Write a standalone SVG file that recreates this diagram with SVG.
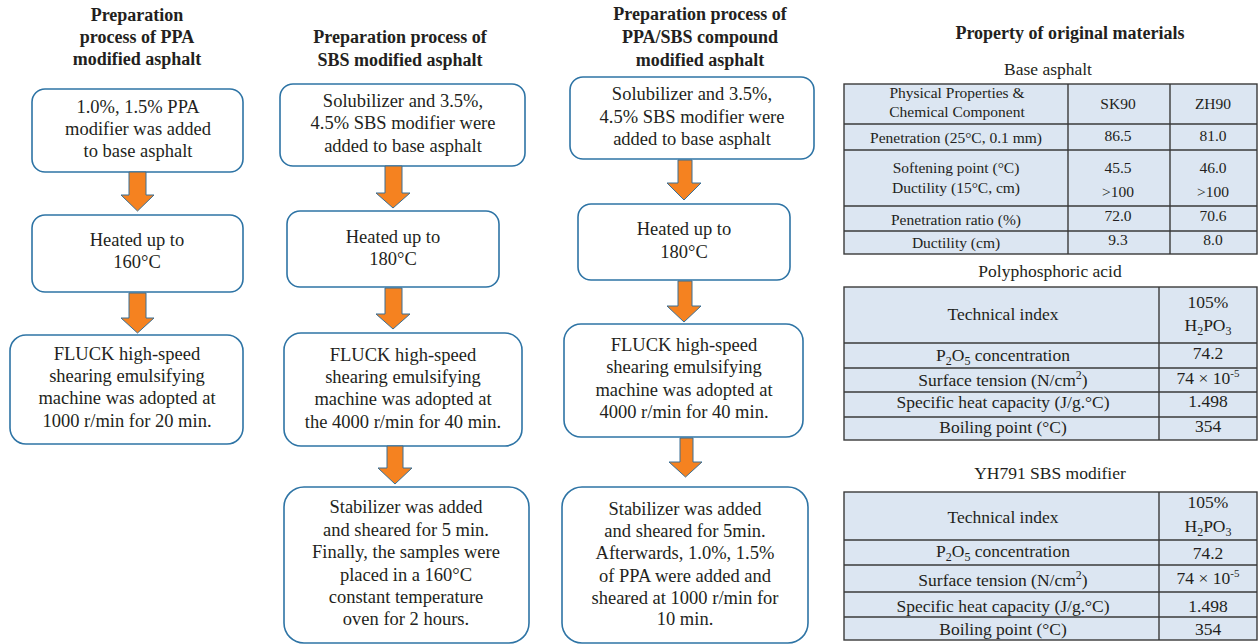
<svg xmlns="http://www.w3.org/2000/svg" width="1258" height="644" viewBox="0 0 1258 644">
<style>
text{font-family:"Liberation Serif","DejaVu Serif",serif;fill:#231f20;text-anchor:middle}
.h{font-size:18px;font-weight:bold}
.t{font-size:18.5px}
.c{font-size:17.5px}
.s1{font-size:15.5px}
.s2{font-size:17.5px}
.box{fill:#fff;stroke:#2e74a5;stroke-width:1.6}
.arr{fill:#f58220;stroke:#3a6f94;stroke-width:1}
.cell{fill:#dce6f2;stroke:#3a3a3a;stroke-width:1.4}
.ln{stroke:#3a3a3a;stroke-width:1.4}
</style>

<!-- Column 1 -->
<g id="title1">
<text class="h" x="137" y="21">Preparation</text>
<text class="h" x="137" y="43">process of PPA</text>
<text class="h" x="137" y="65">modified asphalt</text>
</g>
<g id="c1n1">
<rect class="box" x="32" y="89" width="211" height="83" rx="13"/>
<text class="t" x="138" y="113">1.0%, 1.5% PPA</text>
<text class="t" x="138" y="135">modifier was added</text>
<text class="t" x="138" y="157">to base asphalt</text>
</g>
<g id="c1n2">
<rect class="box" x="32" y="215" width="211" height="77" rx="13"/>
<text class="t" x="137" y="246">Heated up to</text>
<text class="t" x="137" y="268">160°C</text>
</g>
<g id="c1n3">
<rect class="box" x="10" y="335" width="233" height="109" rx="16"/>
<text class="t" x="127" y="360">FLUCK high-speed</text>
<text class="t" x="127" y="382">shearing emulsifying</text>
<text class="t" x="127" y="404">machine was adopted at</text>
<text class="t" x="127" y="427">1000 r/min for 20 min.</text>
</g>

<!-- Column 2 -->
<g id="title2">
<text class="h" x="400" y="43">Preparation process of</text>
<text class="h" x="400" y="66">SBS modified asphalt</text>
</g>
<g id="c2n1">
<rect class="box" x="280" y="84" width="245" height="82" rx="13"/>
<text class="t" x="403" y="107">Solubilizer and 3.5%,</text>
<text class="t" x="403" y="129">4.5% SBS modifier were</text>
<text class="t" x="403" y="152">added to base asphalt</text>
</g>
<g id="c2n2">
<rect class="box" x="287" y="211" width="212" height="76" rx="13"/>
<text class="t" x="393" y="243">Heated up to</text>
<text class="t" x="393" y="265">180°C</text>
</g>
<g id="c2n3">
<rect class="box" x="284" y="333" width="238" height="113" rx="17"/>
<text class="t" x="403" y="361">FLUCK high-speed</text>
<text class="t" x="403" y="383">shearing emulsifying</text>
<text class="t" x="403" y="405">machine was adopted at</text>
<text class="t" x="403" y="428">the 4000 r/min for 40 min.</text>
</g>
<g id="c2n4">
<rect class="box" x="284" y="487" width="245" height="156" rx="20"/>
<text class="t" x="406" y="513">Stabilizer was added</text>
<text class="t" x="406" y="536">and sheared for 5 min.</text>
<text class="t" x="406" y="558">Finally, the samples were</text>
<text class="t" x="406" y="581">placed in a 160°C</text>
<text class="t" x="406" y="603">constant temperature</text>
<text class="t" x="406" y="625">oven for 2 hours.</text>
</g>

<!-- Column 3 -->
<g id="title3">
<text class="h" x="700" y="20">Preparation process of</text>
<text class="h" x="700" y="43">PPA/SBS compound</text>
<text class="h" x="700" y="66">modified asphalt</text>
</g>
<g id="c3n1">
<rect class="box" x="570" y="77" width="244" height="82" rx="13"/>
<text class="t" x="692" y="100">Solubilizer and 3.5%,</text>
<text class="t" x="692" y="123">4.5% SBS modifier were</text>
<text class="t" x="692" y="145">added to base asphalt</text>
</g>
<g id="c3n2">
<rect class="box" x="578" y="204" width="212" height="76" rx="13"/>
<text class="t" x="684" y="235">Heated up to</text>
<text class="t" x="684" y="258">180°C</text>
</g>
<g id="c3n3">
<rect class="box" x="564" y="324" width="239" height="113" rx="17"/>
<text class="t" x="684" y="351">FLUCK high-speed</text>
<text class="t" x="684" y="373">shearing emulsifying</text>
<text class="t" x="684" y="396">machine was adopted at</text>
<text class="t" x="684" y="418">4000 r/min for 40 min.</text>
</g>
<g id="c3n4">
<rect class="box" x="562" y="487" width="246" height="156" rx="20"/>
<text class="t" x="685" y="515">Stabilizer was added</text>
<text class="t" x="685" y="537">and sheared for 5min.</text>
<text class="t" x="685" y="559">Afterwards, 1.0%, 1.5%</text>
<text class="t" x="685" y="582">of PPA were added and</text>
<text class="t" x="685" y="604">sheared at 1000 r/min for</text>
<text class="t" x="685" y="625">10 min.</text>
</g>

<!-- Connectors -->
<g id="connectors">
<polygon class="arr" points="129,172 146,172 146,195 154,195 137.5,211 121,195 129,195"/>
<polygon class="arr" points="129,293 146,293 146,318 154,318 137.5,333 121,318 129,318"/>
<polygon class="arr" points="385,166 402,166 402,193 410,193 393,208 376,193 385,193"/>
<polygon class="arr" points="385,288 402,288 402,314 410,314 393,329 376,314 385,314"/>
<polygon class="arr" points="387,446 403,446 403,468 412,468 395,484 378,468 387,468"/>
<polygon class="arr" points="678,160 692,160 692,183 701,183 684,200 667,183 678,183"/>
<polygon class="arr" points="678,281 692,281 692,306 701,306 684,322 667,306 678,306"/>
<polygon class="arr" points="680,438 693,438 693,462 702,462 685.5,477 669,462 680,462"/>
</g>

<!-- Right side tables -->
<g id="props-title">
<text class="h" x="1070" y="39">Property of original materials</text>
</g>

<g id="table-base">
<text class="c" x="1048" y="75">Base asphalt</text>
<rect class="cell" x="844" y="84" width="413" height="170"/>
<line class="ln" x1="1068" y1="84" x2="1068" y2="254"/>
<line class="ln" x1="1170" y1="84" x2="1170" y2="254"/>
<line class="ln" x1="844" y1="124" x2="1257" y2="124"/>
<line class="ln" x1="844" y1="150" x2="1257" y2="150"/>
<line class="ln" x1="844" y1="206" x2="1257" y2="206"/>
<line class="ln" x1="844" y1="231" x2="1257" y2="231"/>
<text class="s1" x="957" y="98">Physical Properties &amp;</text>
<text class="s1" x="957" y="117">Chemical Component</text>
<text class="s1" x="1118" y="109">SK90</text>
<text class="s1" x="1213" y="109">ZH90</text>
<text class="s1" x="956" y="143">Penetration (25°C, 0.1 mm)</text>
<text class="s1" x="1118" y="141">86.5</text>
<text class="s1" x="1213" y="141">81.0</text>
<text class="s1" x="956" y="173">Softening point (°C)</text>
<text class="s1" x="956" y="193">Ductility (15°C, cm)</text>
<text class="s1" x="1118" y="173">45.5</text>
<text class="s1" x="1213" y="173">46.0</text>
<text class="s1" x="1118" y="197">&gt;100</text>
<text class="s1" x="1213" y="197">&gt;100</text>
<text class="s1" x="956" y="225">Penetration ratio (%)</text>
<text class="s1" x="1118" y="221">72.0</text>
<text class="s1" x="1213" y="221">70.6</text>
<text class="s1" x="956" y="248">Ductility (cm)</text>
<text class="s1" x="1118" y="245">9.3</text>
<text class="s1" x="1213" y="245">8.0</text>
</g>

<g id="table-ppa">
<text class="c" x="1050" y="277">Polyphosphoric acid</text>
<rect class="cell" x="844" y="287" width="413" height="153"/>
<line class="ln" x1="1159" y1="287" x2="1159" y2="440"/>
<line class="ln" x1="844" y1="343" x2="1257" y2="343"/>
<line class="ln" x1="844" y1="368" x2="1257" y2="368"/>
<line class="ln" x1="844" y1="392" x2="1257" y2="392"/>
<line class="ln" x1="844" y1="417" x2="1257" y2="417"/>
<text class="s2" x="1003" y="320">Technical index</text>
<text class="s2" x="1208" y="308">105%</text>
<text class="s2" x="1208" y="331">H<tspan dy="4" font-size="12">2</tspan><tspan dy="-4">PO</tspan><tspan dy="4" font-size="12">3</tspan></text>
<text class="s2" x="1003" y="361">P<tspan dy="4" font-size="12">2</tspan><tspan dy="-4">O</tspan><tspan dy="4" font-size="12">5</tspan><tspan dy="-4"> concentration</tspan></text>
<text class="s2" x="1208" y="359">74.2</text>
<text class="s2" x="1003" y="386">Surface tension (N/cm<tspan dy="-7" font-size="12">2</tspan><tspan dy="7">)</tspan></text>
<text class="s2" x="1208" y="384" font-size="16">74 × 10<tspan dy="-7" font-size="11">-5</tspan></text>
<text class="s2" x="1003" y="408">Specific heat capacity (J/g.°C)</text>
<text class="s2" x="1208" y="407">1.498</text>
<text class="s2" x="1003" y="433">Boiling point (°C)</text>
<text class="s2" x="1208" y="432">354</text>
</g>

<g id="table-sbs">
<text class="c" x="1050" y="479">YH791 SBS modifier</text>
<rect class="cell" x="844" y="492" width="413" height="148"/>
<line class="ln" x1="1159" y1="492" x2="1159" y2="640"/>
<line class="ln" x1="844" y1="540" x2="1257" y2="540"/>
<line class="ln" x1="844" y1="565" x2="1257" y2="565"/>
<line class="ln" x1="844" y1="592" x2="1257" y2="592"/>
<line class="ln" x1="844" y1="617" x2="1257" y2="617"/>
<text class="s2" x="1003" y="523">Technical index</text>
<text class="s2" x="1208" y="508">105%</text>
<text class="s2" x="1208" y="532">H<tspan dy="4" font-size="12">2</tspan><tspan dy="-4">PO</tspan><tspan dy="4" font-size="12">3</tspan></text>
<text class="s2" x="1003" y="557">P<tspan dy="4" font-size="12">2</tspan><tspan dy="-4">O</tspan><tspan dy="4" font-size="12">5</tspan><tspan dy="-4"> concentration</tspan></text>
<text class="s2" x="1208" y="559">74.2</text>
<text class="s2" x="1003" y="586">Surface tension (N/cm<tspan dy="-7" font-size="12">2</tspan><tspan dy="7">)</tspan></text>
<text class="s2" x="1208" y="584" font-size="16">74 × 10<tspan dy="-7" font-size="11">-5</tspan></text>
<text class="s2" x="1003" y="612">Specific heat capacity (J/g.°C)</text>
<text class="s2" x="1208" y="612">1.498</text>
<text class="s2" x="1003" y="635">Boiling point (°C)</text>
<text class="s2" x="1208" y="635">354</text>
</g>
</svg>
